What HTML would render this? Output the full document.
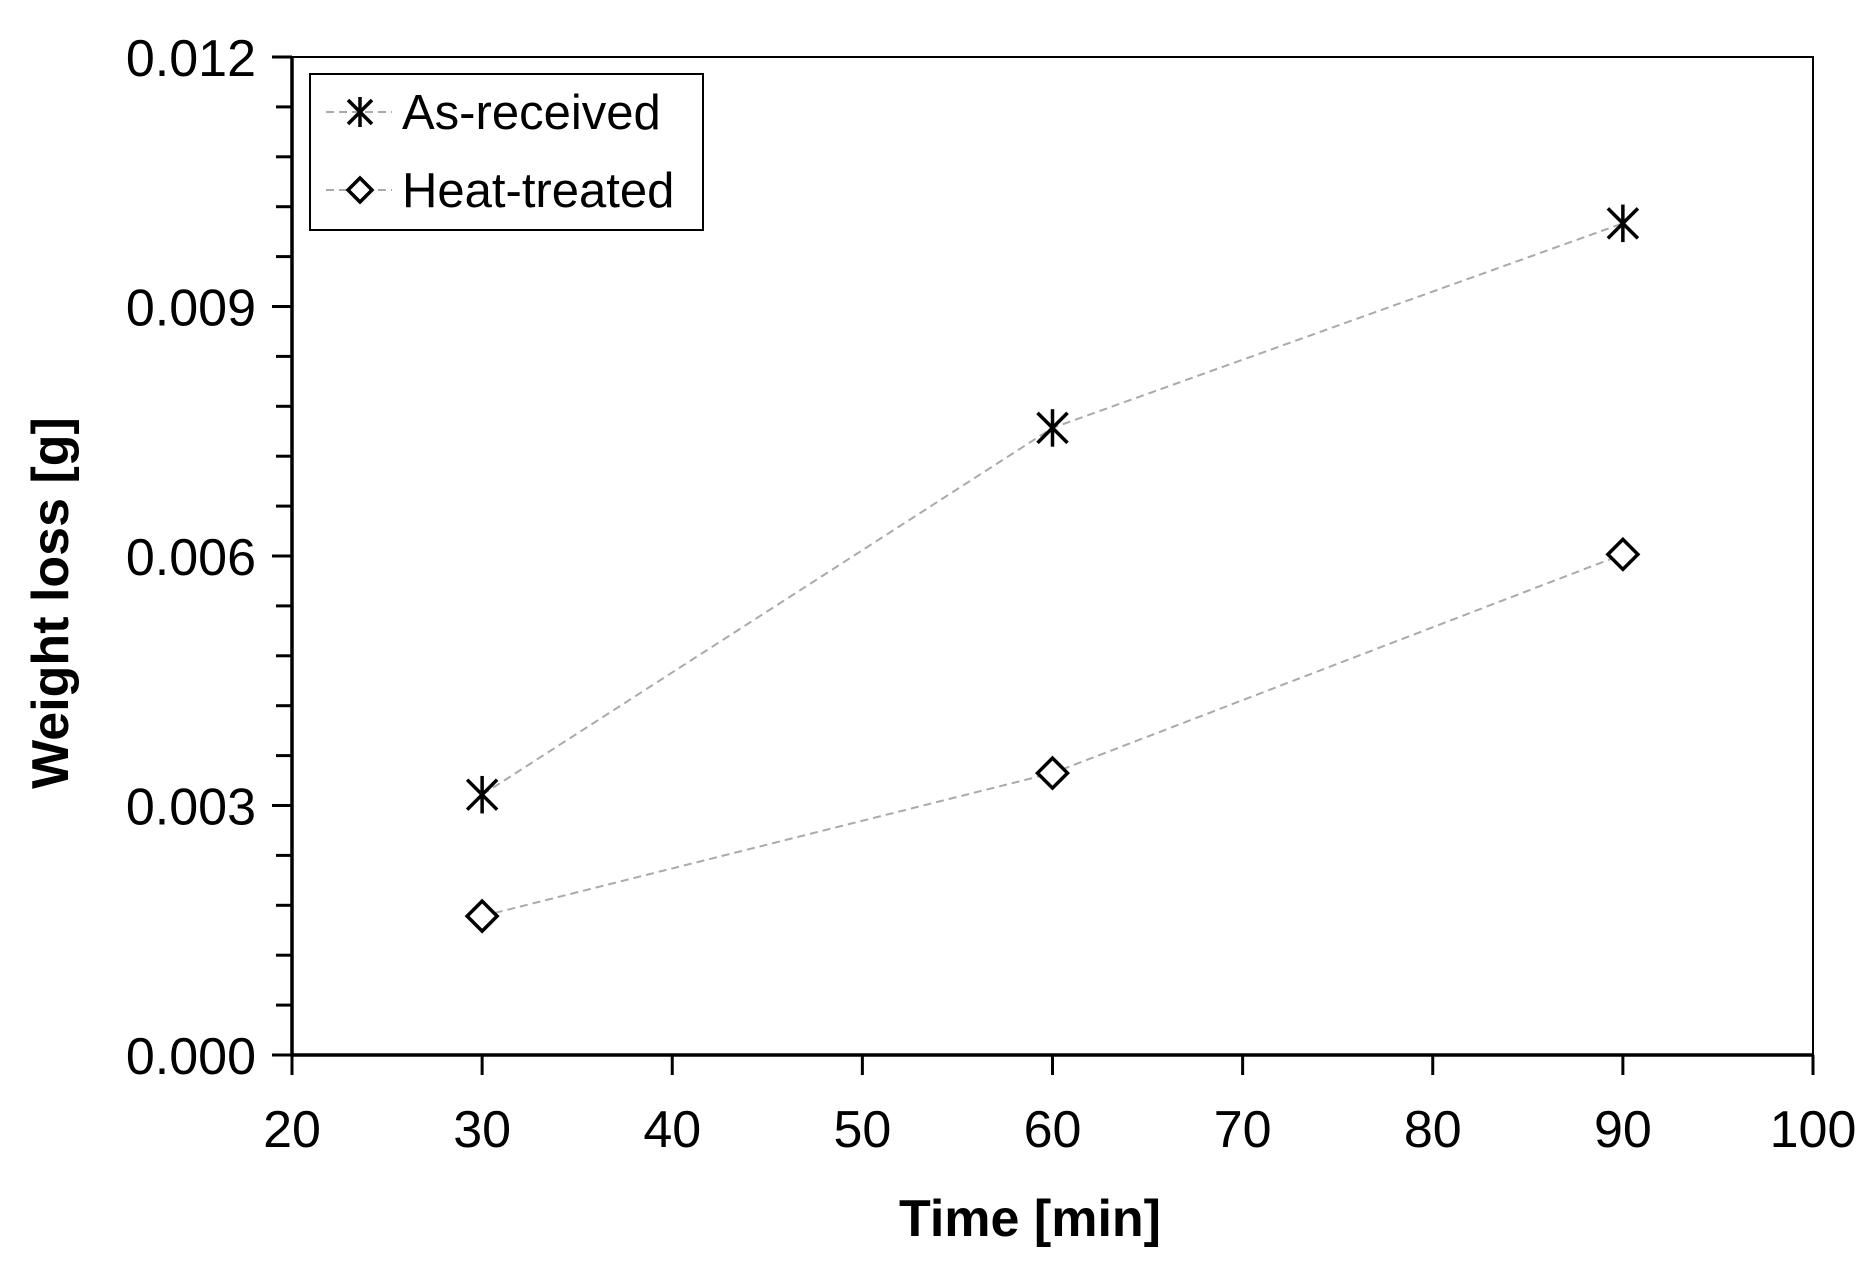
<!DOCTYPE html>
<html><head><meta charset="utf-8"><style>
html,body{margin:0;padding:0;background:#fff;}
svg text{font-family:"Liberation Sans","DejaVu Sans",sans-serif;fill:#000;}
</style></head><body>
<svg id="chart" width="1873" height="1259" viewBox="0 0 1873 1259" xmlns="http://www.w3.org/2000/svg">
</svg>
<script>
const xTicks=[20,30,40,50,60,70,80,90,100];
const yTickLabels=["0.000","0.003","0.006","0.009","0.012"];
const yTicks=[0,0.003,0.006,0.009,0.012];
const times=[30,60,90];
const asReceived=[0.00313,0.00754,0.0100];
const heatTreated=[0.00167,0.00339,0.00602];
const L=292,R=1813,T=57,B=1055;
const xs=v=>L+(v-20)/80*(R-L);
const ys=v=>B-v/0.012*(B-T);
const svg=document.getElementById('chart');
const NS='http://www.w3.org/2000/svg';
function mk(tag,attrs,parent){const e=document.createElementNS(NS,tag);for(const k in attrs)e.setAttribute(k,attrs[k]);(parent||svg).appendChild(e);return e;}
let fr=mk('rect',{x:L,y:T,width:R-L,height:B-T,fill:'none',stroke:'#000','stroke-width':2});


let ax=mk('line',{x1:L,y1:T,x2:L,y2:B,stroke:'#000','stroke-width':3.5});


let axx=mk('line',{x1:L,y1:B,x2:R,y2:B,stroke:'#000','stroke-width':3.5});


xTicks.forEach(v=>{
  const x=xs(v);
  let t=mk('line',{x1:x,y1:B,x2:x,y2:B+20,stroke:'#000','stroke-width':3});
  
  
  let tx=mk('text',{x:x,y:B+92,'font-size':52,'text-anchor':'middle'});
  tx.textContent=v;
  
  
});
for(let i=0;i<=20;i++){
  const v=i*0.0006, y=ys(v), major=i%5===0;
  let t=mk('line',{x1:L-(major?20:16),y1:y,x2:L,y2:y,stroke:'#000','stroke-width':3});
  
  
}
yTicks.forEach((v,i)=>{
  let tx=mk('text',{x:L-36,y:ys(v)+19,'font-size':52,'text-anchor':'end'});
  tx.textContent=yTickLabels[i];
  
  
});
let xt=mk('text',{x:1030,y:1236,'font-size':52,'font-weight':'bold','text-anchor':'middle'});
xt.textContent='Time [min]';


let yt=mk('text',{x:0,y:0,'font-size':52,'font-weight':'bold','text-anchor':'middle',transform:`translate(68,603) rotate(-90)`});
yt.textContent='Weight loss [g]';


function star(cx,cy,s,parent){
  const g=mk('g',{stroke:'#000','stroke-width':3.5,fill:'none'},parent);
  mk('line',{x1:cx-s,y1:cy-s,x2:cx+s,y2:cy+s},g);
  mk('line',{x1:cx-s,y1:cy+s,x2:cx+s,y2:cy-s},g);
  mk('line',{x1:cx,y1:cy-s*1.25,x2:cx,y2:cy+s*1.25},g);
  return g;
}
function diamond(cx,cy,s,parent){
  return mk('polygon',{points:`${cx},${cy-s} ${cx+s},${cy} ${cx},${cy+s} ${cx-s},${cy}`,fill:'#fff',stroke:'#000','stroke-width':3.5},parent);
}
function series(vals,name,marker){
  const g=mk('g',{});
  
  
  const pts=times.map((t,i)=>xs(t)+','+ys(vals[i])).join(' ');
  let pl=mk('polyline',{points:pts,fill:'none',stroke:'#aaa','stroke-width':2,'stroke-dasharray':'8,5'},g);
  
  
  times.forEach((t,i)=>{
    const m=marker(xs(t),ys(vals[i]),15,g);
    
    
  });
}
series(asReceived,'as-received',star);
series(heatTreated,'heat-treated',diamond);
const lg=mk('g',{});


mk('rect',{x:310,y:74,width:393,height:156,fill:'#fff',stroke:'#000','stroke-width':2},lg);
[['As-received',112,star],['Heat-treated',190,diamond]].forEach(([lab,y,m])=>{
  const e=mk('g',{},lg);
  
  
  mk('line',{x1:326,y1:y,x2:392,y2:y,stroke:'#aaa','stroke-width':2,'stroke-dasharray':'8,5'},e);
  m(360,y,12,e);
  const t=mk('text',{x:402,y:y+17,'font-size':49},e);
  t.textContent=lab;
});
</script>
</body></html>
